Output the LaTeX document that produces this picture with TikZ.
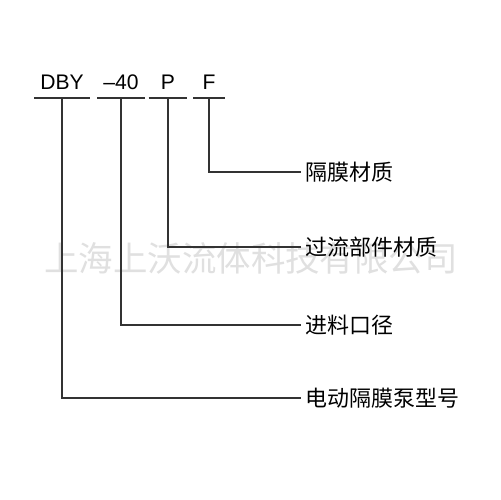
\documentclass[tikz,border=0pt]{standalone}
\usepackage{fontspec}
\setmainfont{Liberation Sans}
\newfontfamily\cjk{Noto Sans CJK SC}
\begin{document}
\begin{tikzpicture}[x=0.02cm,y=-0.02cm,
    code/.style={anchor=south,text depth=0pt,inner ysep=0.16cm,font=\fontsize{12}{14}\selectfont},
    part/.style={anchor=west,inner xsep=0.08cm,font=\cjk\fontsize{12.5}{15}\selectfont},
    rule/.style={draw=black!80,line width=0.7pt}]
    \useasboundingbox[fill=white] (0,0) rectangle (500,500);
    \node[font=\cjk\fontsize{19.6}{22}\selectfont,text=black!12] (mark) at (251,258) {上海上沃流体科技有限公司};
    \node[code,minimum width=1cm] (dby) at (62,98) {DBY};
    \node[code,minimum width=0.82cm] (dia) at (121,98) {–40};
    \node[code,minimum width=0.76cm] (wet) at (168,98) {P};
    \node[code,minimum width=0.62cm] (mem) at (209,98) {F};
    \node[part] (memtext) at (301,172) {隔膜材质};
    \node[part] (wettext) at (301,247) {过流部件材质};
    \node[part] (diatext) at (301,325) {进料口径};
    \node[part] (dbytext) at (301,398) {电动隔膜泵型号};
    \foreach \n in {dby,dia,wet,mem}
        \draw[rule] (\n.south west) -- (\n.south east);
    \draw[rule] (mem.south) |- (memtext.west);
    \draw[rule] (wet.south) |- (wettext.west);
    \draw[rule] (dia.south) |- (diatext.west);
    \draw[rule] (dby.south) |- (dbytext.west);
\end{tikzpicture}
\end{document}
